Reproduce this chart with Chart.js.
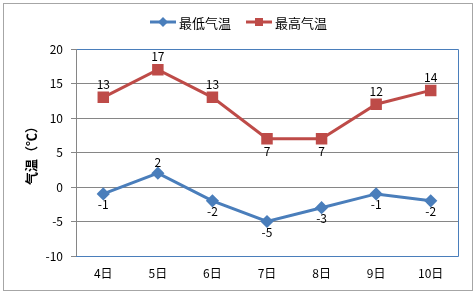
<!DOCTYPE html>
<html><head><meta charset="utf-8">
<script src="https://cdn.jsdelivr.net/npm/chart.js@4"></script>
<style>html,body{margin:0;padding:0;background:#fff}#wrap{width:476px;height:293px;position:relative}</style>
</head><body><div id="wrap"><canvas id="c" width="476" height="293"></canvas></div>
<script>
const categories = ['4日','5日','6日','7日','8日','9日','10日'];
const minTemp = [-1, 2, -2, -5, -3, -1, -2];
const maxTemp = [13, 17, 13, 7, 7, 12, 14];
const seriesNames = ['最低气温','最高气温'];
const yTicks = [-10, -5, 0, 5, 10, 15, 20];
const axisTitle = '气温（℃）';
const minLabelPos = ['below','above','below','below','below','below','below'];
const maxLabelPos = ['above','above','above','below','below','above','above'];

const BLUE = '#4a7ebb', RED = '#be4b48';
const FONT = '"Noto Sans CJK SC", "Noto Sans", sans-serif';

const deco = {
  id: 'deco',
  beforeDraw(chart) {
    const ctx = chart.ctx;
    ctx.save();
    ctx.fillStyle = '#fff';
    ctx.fillRect(0, 0, chart.width, chart.height);
    ctx.strokeStyle = '#a6a6a6';
    ctx.lineWidth = 1;
    ctx.strokeRect(3.5, 3.5, 469, 287);
    ctx.restore();
  },
  afterDatasetsDraw(chart) {
    const ctx = chart.ctx;
    const a = chart.chartArea;
    ctx.save();
    ctx.strokeStyle = BLUE;
    ctx.lineWidth = 1;
    ctx.beginPath();
    ctx.moveTo(a.left, Math.round(a.top) + 0.5);
    ctx.lineTo(Math.round(a.right) + 0.5, Math.round(a.top) + 0.5);
    ctx.lineTo(Math.round(a.right) + 0.5, Math.round(a.bottom) + 0.5);
    ctx.lineTo(a.left, Math.round(a.bottom) + 0.5);
    ctx.stroke();
    ctx.strokeStyle = '#868686';
    ctx.beginPath();
    ctx.moveTo(Math.round(a.left) + 0.5, a.top);
    ctx.lineTo(Math.round(a.left) + 0.5, a.bottom);
    ctx.stroke();
    ctx.fillStyle = '#000';
    ctx.font = '12px ' + FONT;
    ctx.textAlign = 'center';
    ctx.textBaseline = 'middle';
    const posSets = [minLabelPos, maxLabelPos];
    const offs = [11, 13];
    chart.data.datasets.forEach((ds, di) => {
      const meta = chart.getDatasetMeta(di);
      meta.data.forEach((pt, i) => {
        const off = posSets[di][i] === 'above' ? -offs[di] : offs[di];
        ctx.fillText(String(ds.data[i]), pt.x, pt.y + off);
      });
    });
    ctx.save();
    ctx.translate(31, (a.top + a.bottom) / 2);
    ctx.rotate(-Math.PI / 2);
    ctx.font = 'bold 13px ' + FONT;
    ctx.fillText(axisTitle, 0, 0);
    ctx.restore();
    const items = [{c: BLUE, s: 'diamond'}, {c: RED, s: 'square'}];
    const xs = [150, 246];
    ctx.font = '13px ' + FONT;
    ctx.textAlign = 'left';
    items.forEach((it, k) => {
      const x = xs[k], y = 22;
      ctx.strokeStyle = it.c; ctx.lineWidth = 3;
      ctx.beginPath(); ctx.moveTo(x, y); ctx.lineTo(x + 26, y); ctx.stroke();
      ctx.fillStyle = it.c;
      if (it.s === 'diamond') {
        ctx.beginPath(); ctx.moveTo(x + 13, y - 5); ctx.lineTo(x + 18, y); ctx.lineTo(x + 13, y + 5); ctx.lineTo(x + 8, y); ctx.closePath(); ctx.fill();
      } else {
        ctx.fillRect(x + 9, y - 4, 8, 8);
      }
      ctx.fillStyle = '#000';
      ctx.fillText(seriesNames[k], x + 29, y + 1);
    });
    ctx.restore();
  }
};

new Chart(document.getElementById('c'), {
  type: 'line',
  data: {
    labels: categories,
    datasets: [
      { label: seriesNames[0], data: minTemp, borderColor: BLUE, backgroundColor: BLUE, borderWidth: 3,
        pointStyle: 'rectRot', pointRadius: 4.5, pointHoverRadius: 4.5, tension: 0 },
      { label: seriesNames[1], data: maxTemp, borderColor: RED, backgroundColor: RED, borderWidth: 3,
        pointStyle: 'rect', pointRadius: 6, pointHoverRadius: 6, tension: 0 }
    ]
  },
  options: {
    responsive: false,
    animation: false,
    events: [],
    layout: { padding: { top: 49, right: 18, left: 0, bottom: 0 } },
    plugins: { legend: { display: false }, tooltip: { enabled: false } },
    scales: {
      x: {
        offset: true,
        grid: { display: false, drawTicks: false },
        border: { display: false },
        ticks: { color: '#000', font: { size: 12, family: FONT }, padding: 10, maxRotation: 0 },
        afterFit(s) { s.height = 37; }
      },
      y: {
        min: -10, max: 20,
        afterBuildTicks(s) { s.ticks = yTicks.map(v => ({ value: v })); },
        grid: { color: '#868686', tickLength: 5, tickColor: '#868686' },
        border: { display: false },
        ticks: { color: '#000', font: { size: 12, family: FONT }, padding: 8 },
        afterFit(s) { s.width = 76; }
      }
    }
  },
  plugins: [deco]
});
</script>
</body></html>
